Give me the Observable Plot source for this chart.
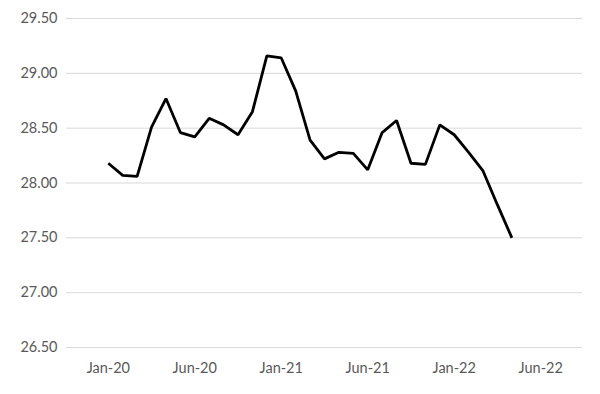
<!DOCTYPE html>
<html>
<head>
<meta charset="utf-8">
<script src="https://cdn.jsdelivr.net/npm/d3@7"></script>
<script src="https://cdn.jsdelivr.net/npm/@observablehq/plot@0.6"></script>
<style>
  html, body { margin: 0; padding: 0; background: #fff; }
  #chart svg { display: block; }
</style>
</head>
<body>
<div id="chart"></div>
<script>
const months = [
  "Jan-20","Feb-20","Mar-20","Apr-20","May-20","Jun-20","Jul-20","Aug-20","Sep-20","Oct-20","Nov-20","Dec-20",
  "Jan-21","Feb-21","Mar-21","Apr-21","May-21","Jun-21","Jul-21","Aug-21","Sep-21","Oct-21","Nov-21","Dec-21",
  "Jan-22","Feb-22","Mar-22","Apr-22","May-22"
];
const values = [
  28.18, 28.07, 28.06, 28.51, 28.77, 28.46, 28.42, 28.59, 28.53, 28.44, 28.65, 29.16,
  29.14, 28.84, 28.39, 28.22, 28.28, 28.27, 28.12, 28.46, 28.57, 28.18, 28.17, 28.53,
  28.44, 28.28, 28.11, 27.80, 27.50
];
const xTickIndex = [0, 6, 12, 18, 24, 30];
const xTickLabels = ["Jan-20", "Jun-20", "Jan-21", "Jun-21", "Jan-22", "Jun-22"];
const yTicks = [26.5, 27.0, 27.5, 28.0, 28.5, 29.0, 29.5];

const data = values.map((v, i) => ({ i, month: months[i], value: v }));

const chart = Plot.plot({
  width: 600,
  height: 394,
  marginLeft: 66,
  marginRight: 18,
  marginTop: 18,
  marginBottom: 47,
  style: { fontFamily: "Lato, 'Open Sans', sans-serif", fontSize: "14.5px", color: "#595959", background: "#fff" },
  x: { type: "linear", domain: [-2.9, 32.9] },
  y: { domain: [26.5, 29.5] },
  marks: [
    Plot.gridY(yTicks, { stroke: "#d9d9d9", strokeOpacity: 1, strokeWidth: 1 }),
    Plot.axisY(yTicks, { tickSize: 0, tickPadding: 9, tickFormat: d3.format(".2f"), fill: "#595959", label: null }),
    Plot.axisX(xTickIndex, { tickSize: 0, tickPadding: 15, tickFormat: (d) => xTickLabels[xTickIndex.indexOf(d)], fill: "#595959", label: null }),
    Plot.lineY(data, { x: "i", y: "value", stroke: "#000", strokeWidth: 2.8, strokeLinejoin: "miter", strokeLinecap: "butt" })
  ]
});
document.getElementById("chart").appendChild(chart);
</script>
</body>
</html>
